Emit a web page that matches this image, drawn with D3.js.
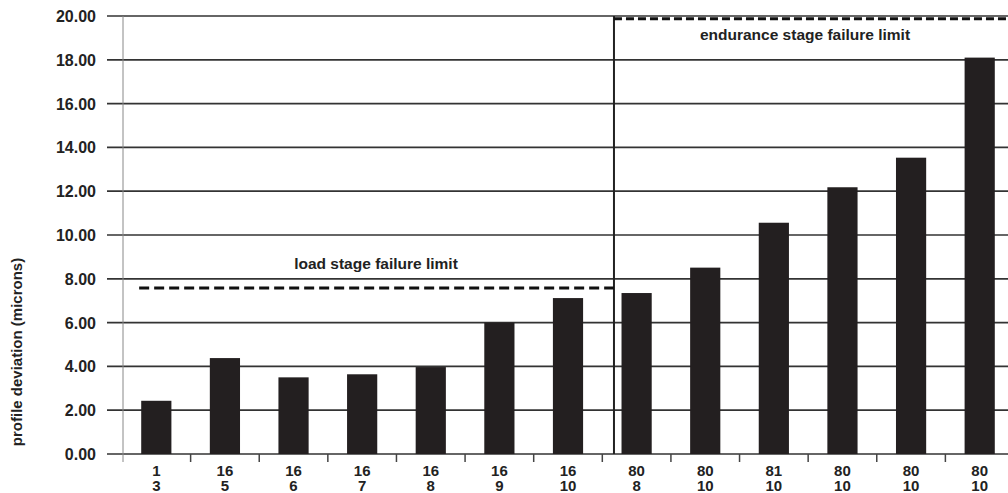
<!DOCTYPE html>
<html>
<head>
<meta charset="utf-8">
<script src="https://cdn.jsdelivr.net/npm/d3@7"></script>
<style>
  body { margin: 0; background: #fff; }
  text { font-family: "Liberation Sans", Arial, sans-serif; fill: #222; }
</style>
</head>
<body>
<div id="chart"></div>
<script>
// categories: two-line x labels
var topLabels = ["1", "16", "16", "16", "16", "16", "16", "80", "80", "81", "80", "80", "80"];
var bottomLabels = ["3", "5", "6", "7", "8", "9", "10", "8", "10", "10", "10", "10", "10"];
var deviation = [2.43, 4.38, 3.50, 3.64, 3.97, 6.0, 7.12, 7.35, 8.51, 10.56, 12.18, 13.53, 18.1];
var yTicks = [0, 2, 4, 6, 8, 10, 12, 14, 16, 18, 20];
var loadLimit = 7.58;
var enduranceLimit = 19.88;

var width = 1008, height = 493;

var svg = d3.select("#chart").append("svg")
  .attr("width", width)
  .attr("height", height);

var cats = d3.range(deviation.length);

var x = d3.scaleBand()
  .domain(cats)
  .range([122, 1014])
  .paddingInner(0.56)
  .paddingOuter(0.28);

var y = d3.scaleLinear()
  .domain([0, 20])
  .range([454, 16]);

var step = x.step();
var r0 = x.range()[0];

// grid lines
svg.selectAll("line.grid")
  .data(yTicks)
  .enter()
  .append("line")
    .attr("class", "grid")
    .attr("x1", 107)
    .attr("x2", width)
    .attr("y1", function(d) { return y(d); })
    .attr("y2", function(d) { return y(d); })
    .attr("stroke", "#333")
    .attr("stroke-width", 1.7);

// y tick labels
svg.selectAll("text.ytick")
  .data(yTicks)
  .enter()
  .append("text")
    .attr("class", "ytick")
    .attr("x", 96)
    .attr("y", function(d) { return y(d) + 6; })
    .attr("text-anchor", "end")
    .style("font-size", "16px")
    .style("font-weight", "bold")
    .text(function(d) { return d.toFixed(2); });

// y axis line
svg.append("line")
  .attr("x1", r0 + 1).attr("x2", r0 + 1)
  .attr("y1", y(20)).attr("y2", y(0) + 8)
  .attr("stroke", "#888")
  .attr("stroke-width", 1);

// x ticks at band boundaries
svg.selectAll("line.xtick")
  .data(d3.range(1, cats.length + 1))
  .enter()
  .append("line")
    .attr("class", "xtick")
    .attr("x1", function(i) { return r0 + i * step; })
    .attr("x2", function(i) { return r0 + i * step; })
    .attr("y1", y(0))
    .attr("y2", y(0) + 8)
    .attr("stroke", "#444")
    .attr("stroke-width", 1.5);

// bars
svg.selectAll("rect.bar")
  .data(deviation)
  .enter()
  .append("rect")
    .attr("class", "bar")
    .attr("x", function(d, i) { return x(i); })
    .attr("y", function(d) { return y(d); })
    .attr("width", x.bandwidth())
    .attr("height", function(d) { return y(0) - y(d); })
    .attr("fill", "#231f20");

// x labels
var xl = svg.selectAll("g.xlab")
  .data(cats)
  .enter()
  .append("g")
    .attr("class", "xlab")
    .attr("transform", function(i) { return "translate(" + (x(i) + x.bandwidth() / 2) + ",0)"; });

xl.append("text")
  .attr("y", 476)
  .attr("text-anchor", "middle")
  .style("font-size", "15px")
  .style("font-weight", "bold")
  .text(function(i) { return topLabels[i]; });

xl.append("text")
  .attr("y", 491)
  .attr("text-anchor", "middle")
  .style("font-size", "15px")
  .style("font-weight", "bold")
  .text(function(i) { return bottomLabels[i]; });

// stage divider
var divX = x(7) - 0.11 * step;
svg.append("line")
  .attr("x1", divX).attr("x2", divX)
  .attr("y1", y(20)).attr("y2", y(0))
  .attr("stroke", "#222")
  .attr("stroke-width", 2);

// failure limits
svg.append("line")
  .attr("x1", r0 + 0.25 * step).attr("x2", divX)
  .attr("y1", y(loadLimit)).attr("y2", y(loadLimit))
  .attr("stroke", "#111")
  .attr("stroke-width", 3)
  .attr("stroke-dasharray", "10,5");

svg.append("line")
  .attr("x1", divX).attr("x2", width)
  .attr("y1", y(enduranceLimit)).attr("y2", y(enduranceLimit))
  .attr("stroke", "#111")
  .attr("stroke-width", 3)
  .attr("stroke-dasharray", "8,4");

svg.append("text")
  .attr("x", 376)
  .attr("y", y(loadLimit) - 19)
  .attr("text-anchor", "middle")
  .style("font-size", "15.5px")
  .style("font-weight", "bold")
  .text("load stage failure limit");

svg.append("text")
  .attr("x", 805)
  .attr("y", 40)
  .attr("text-anchor", "middle")
  .style("font-size", "15.5px")
  .style("font-weight", "bold")
  .text("endurance stage failure limit");

// y axis title
svg.append("text")
  .attr("transform", "translate(22,352) rotate(-90)")
  .attr("text-anchor", "middle")
  .style("font-size", "15px")
  .style("font-weight", "bold")
  .text("profile deviation (microns)");
</script>
</body>
</html>
